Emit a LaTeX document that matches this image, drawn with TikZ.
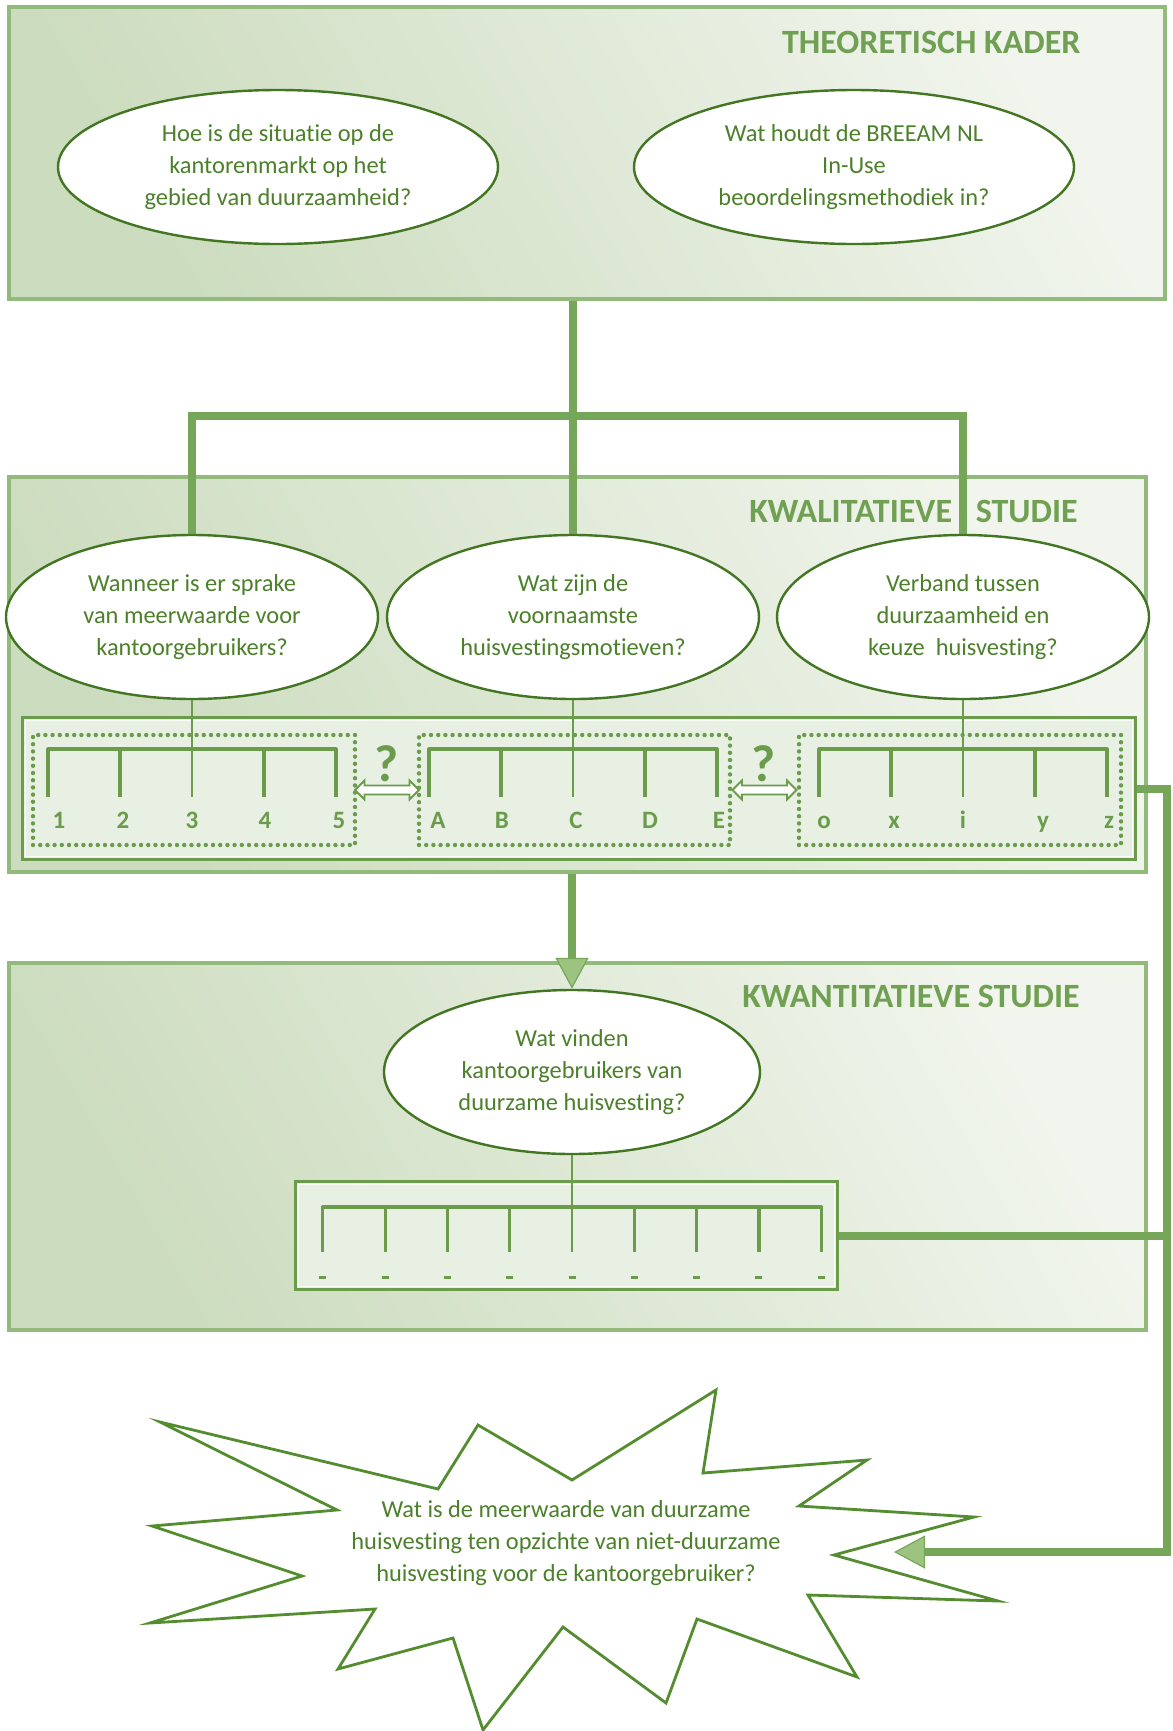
\documentclass[tikz,border=0pt]{standalone}
\usepackage{fontspec}
\setmainfont{Carlito}[Ligatures={NoCommon}]
\usetikzlibrary{shapes.geometric,shapes.arrows,arrows.meta,calc}

\definecolor{conncol}{RGB}{118,166,88}
\definecolor{ellline}{RGB}{66,118,34}
\definecolor{txtgreen}{RGB}{76,128,42}
\definecolor{titlecol}{RGB}{112,160,82}
\definecolor{combcol}{RGB}{106,156,76}
\definecolor{boxline}{RGB}{146,186,122}
\definecolor{bgA}{RGB}{204,220,190}
\definecolor{bgB}{RGB}{241,245,237}
\definecolor{stripfill}{RGB}{232,239,227}
\definecolor{arrowfill}{RGB}{156,196,128}
\definecolor{starline}{RGB}{84,140,48}

\newcommand\qtext{\fontsize{12.2pt}{16pt}\selectfont}
\newcommand\ttext{\fontsize{17pt}{20pt}\selectfont\bfseries}
\newcommand\ltext{\fontsize{12.5pt}{14pt}\selectfont\bfseries}

\begin{document}
\begin{tikzpicture}[x=0.5pt, y=-0.5pt,
  panel/.style={rectangle, inner sep=0pt, draw=boxline, line width=1.6pt,
    left color=bgA, right color=bgB, shading angle=120},
  title/.style={font=\ttext, text=titlecol, inner sep=0pt},
  qell/.style={ellipse, draw=ellline, line width=1.2pt, fill=white,
    inner sep=0pt, align=center, text=txtgreen, font=\qtext},
  strip/.style={rectangle, inner sep=0pt, draw=combcol, line width=2pt, fill=stripfill},
  dotbox/.style={rectangle, inner sep=0pt, draw=combcol, line width=2.2pt,
    dash pattern=on 0pt off 3.6pt, line cap=round},
  conn/.style={draw=conncol, line width=4pt},
  tipped/.style={-{Triangle[length=15.5pt, width=16.5pt, line width=0.6pt, fill=arrowfill, color=conncol]}},
  comb/.style={draw=combcol, line width=1.6pt},
  stem/.style={draw=combcol, line width=1.4pt},
  lab/.style={font=\ltext, text=combcol, inner sep=0pt},
  qmark/.style={font=\fontsize{26pt}{28pt}\selectfont\bfseries, text=combcol, inner sep=0pt},
  dblarr/.style={double arrow, draw=combcol, fill=white, line width=0.9pt,
    minimum width=9pt, double arrow head extend=2.5pt, inner sep=1.8pt, minimum height=32pt}
]
\useasboundingbox (0,0) rectangle (1173,1731);

% panels
\node[panel, minimum width=578pt, minimum height=146pt] (theo) at (587,153) {};
\node[panel, minimum width=568.5pt, minimum height=197.5pt] (kwal) at (577.5,674.5) {};
\node[panel, minimum width=568.5pt, minimum height=183.5pt] (kwan) at (577.5,1146.5) {};

% panel titles
\node[title, anchor=base east] (t1) at (1081,53) {THEORETISCH KADER};
\node[title, anchor=base east] (t2) at (1078,522) {KWALITATIEVE\hspace{8pt} STUDIE};
\node[title, anchor=base east] (t3) at (1080,1007) {KWANTITATIEVE STUDIE};

% answer strips with inner highlight
\node[strip, minimum width=556pt, minimum height=70.5pt] (s1) at (579,788.5) {};
\node[strip, minimum width=270.5pt, minimum height=53.5pt] (s2) at (566.5,1235.5) {};
\draw[white, line width=1.2pt, opacity=0.85] ($(s1.south west)+(4,-4)$) rectangle ($(s1.north east)+(-4,4)$);
\draw[white, line width=1.2pt, opacity=0.85] ($(s2.south west)+(4,-4)$) rectangle ($(s2.north east)+(-4,4)$);

% dotted groups
\node[dotbox, minimum width=161pt, minimum height=55pt] (d1) at (194,790) {};
\node[dotbox, minimum width=155.5pt, minimum height=55pt] (d2) at (574.5,790) {};
\node[dotbox, minimum width=161pt, minimum height=55pt] (d3) at (960,790) {};

% connectors between the studies
\coordinate (bar) at (573,416);
\coordinate (rx) at (1167,0);
\coordinate (burstin) at (894,1552);
\draw[conn] (theo.south -| 573,0) -- (573,535);
\draw[conn, line join=miter] (192,535) |- (bar) -| (963,535);

% question ellipses
\node[qell, minimum width=220pt, minimum height=77pt] (q1) at (278,167)
  {Hoe is de situatie op de\\kantorenmarkt op het\\gebied van duurzaamheid?};
\node[qell, minimum width=220pt, minimum height=77pt] (q2) at (854,167)
  {Wat houdt de BREEAM NL\\In-Use\\beoordelingsmethodiek in?};
\node[qell, minimum width=186pt, minimum height=82pt] (w1) at (192,617)
  {Wanneer is er sprake\\van meerwaarde voor\\kantoorgebruikers?};
\node[qell, minimum width=186pt, minimum height=82pt] (w2) at (573,617)
  {Wat zijn de\\voornaamste\\huisvestingsmotieven?};
\node[qell, minimum width=186pt, minimum height=82pt] (w3) at (963,617)
  {Verband tussen\\duurzaamheid en\\keuze\ \ huisvesting?};
\node[qell, minimum width=188pt, minimum height=82pt] (v1) at (572,1072)
  {Wat vinden\\kantoorgebruikers van\\duurzame huisvesting?};

\draw[conn, tipped] (kwal.south -| v1.north) -- (v1.north);
\draw[conn, tipped, line join=miter] (s1.east) -| (rx |- burstin) -- (burstin);
\draw[conn] (s2.east) -- (s2.east -| rx);

% combs of the qualitative study
\foreach \c in {192,573,963}{
  \draw[comb, line join=round] (\c-144,797) -- (\c-144,749) -- (\c+144,749) -- (\c+144,797);
  \draw[comb] (\c-72,749) -- (\c-72,797);
  \draw[comb] (\c+72,749) -- (\c+72,797);
}
\draw[stem] (w1.south) -- (w1.south |- 0,797);
\draw[stem] (w2.south) -- (w2.south |- 0,797);
\draw[stem] (w3.south) -- (w3.south |- 0,797);

\foreach \x/\l [count=\i] in {59/1,123/2,192/3,265/4,339/5}
  \node[lab] (na\i) at (\x,820) {\l};
\foreach \x/\l [count=\i] in {438/A,502/B,576/C,650/D,719/E}
  \node[lab] (nb\i) at (\x,820) {\l};
\foreach \x/\l [count=\i] in {824/o,894/x,963/i,1043/y,1109/z}
  \node[lab, anchor=base] (nc\i) at (\x,828) {\l};

% links between the groups
\node[dblarr] (da1) at ($(d1.east)!0.5!(d2.west)$) {};
\node[dblarr] (da2) at ($(d2.east)!0.5!(d3.west)$) {};
\node[qmark, anchor=base] (qm1) at (387,781) {?};
\node[qmark, anchor=base] (qm2) at (764,781) {?};

% comb of the quantitative study
\draw[comb, line join=round] (322.8,1252) -- (322.8,1207) -- (821.2,1207) -- (821.2,1252);
\foreach \k in {1,2,3,5,6,7}
  \draw[comb] (322.8+\k*62.3,1207) -- (322.8+\k*62.3,1252);
\draw[stem] (v1.south) -- (v1.south |- 0,1252);
\foreach \k in {0,...,8}
  \draw[combcol, line width=1.5pt] (319.3+\k*62.3,1277) -- (326.3+\k*62.3,1277);

% main question burst
\draw[starline, line width=1.4pt, fill=white, line join=miter]
  (160,1422) -- (438,1489) -- (478,1425) -- (572,1480) -- (716,1390) --
  (703,1473) -- (867,1460) -- (799,1506) -- (974,1517) -- (834,1555) --
  (998,1601) -- (808,1595) -- (857,1677) -- (697,1619) -- (666,1703) --
  (563,1627) -- (483,1730) -- (453,1638) -- (338,1669) -- (375,1609) --
  (150,1623) -- (302,1576) -- (152,1526) -- (337,1510) -- cycle;
\node[font=\qtext, text=txtgreen, align=center, inner sep=0pt] (burst) at (566,1543)
  {Wat is de meerwaarde van duurzame\\huisvesting ten opzichte van niet-duurzame\\huisvesting voor de kantoorgebruiker?};
\end{tikzpicture}
\end{document}
